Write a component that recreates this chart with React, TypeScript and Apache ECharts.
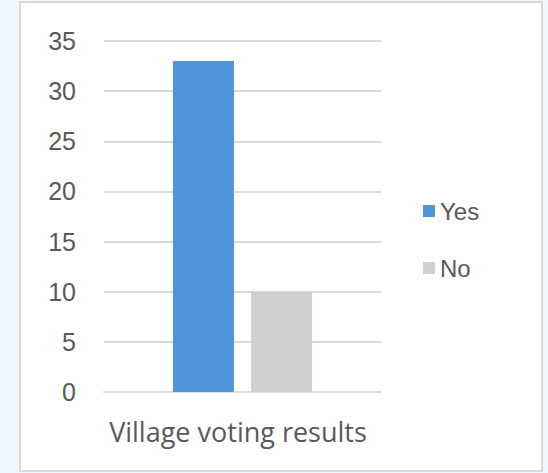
import React, { useEffect, useRef } from "react";
import * as echarts from "echarts";

const categories = ["Village voting results"];
const seriesNames = ["Yes", "No"];
const yesValues = [33];
const noValues = [10];
const colors = ["#4f95da", "#d0d0d0"];

export default function App() {
  const ref = useRef<HTMLDivElement>(null);
  useEffect(() => {
    if (!ref.current) return;
    const chart = echarts.init(ref.current, null, { renderer: "svg" });
    chart.setOption({
      animation: false,
      grid: { left: 104, right: 167, top: 41, bottom: 81 },
      legend: {
        orient: "vertical",
        left: 418,
        top: 194,
        itemWidth: 12,
        itemHeight: 12,
        itemGap: 33,
        icon: "rect",
        textStyle: { fontFamily: "Liberation Sans", fontSize: 24, color: "#595959" },
        data: seriesNames,
      },
      xAxis: {
        type: "category",
        data: categories,
        axisLine: { lineStyle: { color: "#d9d9d9", width: 2 } },
        axisTick: { show: false },
        axisLabel: {
          fontFamily: "Open Sans",
          fontSize: 27,
          color: "#595959",
          margin: 26,
          padding: [0, 9, 0, 0],
        },
      },
      yAxis: {
        type: "value",
        min: 0,
        max: 35,
        interval: 5,
        axisLine: { show: false },
        axisTick: { show: false },
        splitLine: { lineStyle: { color: "#d9d9d9", width: 2 } },
        axisLabel: {
          fontFamily: "Liberation Sans",
          fontSize: 25,
          color: "#595959",
          margin: 28,
        },
      },
      series: [
        {
          name: seriesNames[0],
          type: "bar",
          data: yesValues,
          barWidth: 61,
          barGap: "28%",
          itemStyle: { color: colors[0] },
        },
        {
          name: seriesNames[1],
          type: "bar",
          data: noValues,
          barWidth: 61,
          itemStyle: { color: colors[1] },
        },
      ],
    });
    return () => chart.dispose();
  }, []);
  return (
    <div
      style={{
        position: "fixed",
        left: 0,
        top: 0,
        width: 548,
        height: 473,
        background: "#eef8fd",
      }}
    >
      <div
        style={{
          position: "absolute",
          left: 19,
          top: 1,
          width: 520,
          height: 467,
          background: "#ffffff",
          border: "2px solid #d9d9d9",
        }}
      />
      <div ref={ref} style={{ position: "absolute", left: 0, top: 0, width: 548, height: 473 }} />
    </div>
  );
}
